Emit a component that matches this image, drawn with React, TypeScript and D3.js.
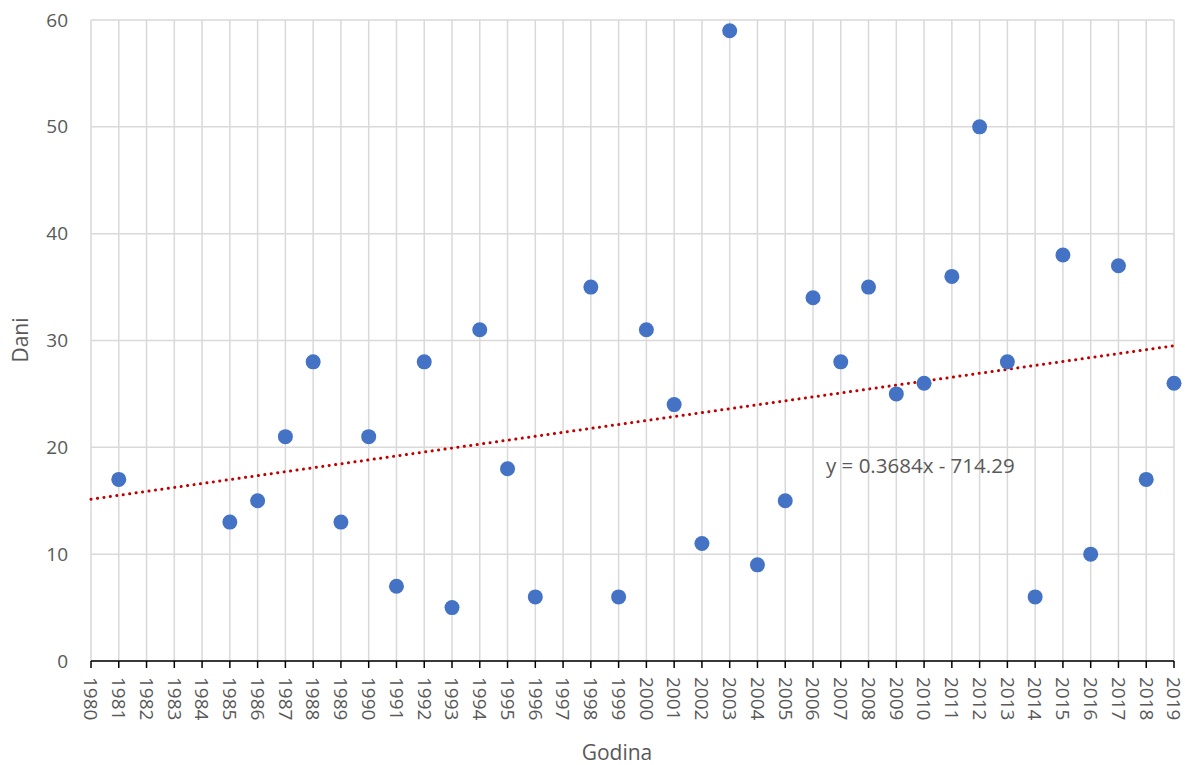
import React from "react";
import * as d3 from "d3";

const years = [1981, 1985, 1986, 1987, 1988, 1989, 1990, 1991, 1992, 1993, 1994, 1995, 1996, 1998, 1999, 2000, 2001, 2002, 2003, 2004, 2005, 2006, 2007, 2008, 2009, 2010, 2011, 2012, 2013, 2014, 2015, 2016, 2017, 2018, 2019];
const days = [17, 13, 15, 21, 28, 13, 21, 7, 28, 5, 31, 18, 6, 35, 6, 31, 24, 11, 59, 9, 15, 34, 28, 35, 25, 26, 36, 50, 28, 6, 38, 10, 37, 17, 26];
const xTicks = d3.range(1980, 2020);
const yTicks = [0, 10, 20, 30, 40, 50, 60];
const slope = 0.3684;
const intercept = -714.29;
const equationLabel = "y = 0.3684x - 714.29";
const xTitle = "Godina";
const yTitle = "Dani";

export default function App() {
  const W = 1185, H = 765;
  const left = 91, right = 1174, top = 20, bottom = 661;
  const x = d3.scaleLinear().domain([1980, 2019]).range([left, right]);
  const y = d3.scaleLinear().domain([0, 60]).range([bottom, top]);
  const font = "'Open Sans', 'Liberation Sans', sans-serif";
  const trend = d3.line<number>().x((d) => x(d)).y((d) => y(slope * d + intercept));
  return (
    <svg width={W} height={H} style={{ position: "absolute", left: 0, top: 0 }}>
      <rect width={W} height={H} fill="#fff" />
      {yTicks.map((t) => (
        <line key={"gy" + t} x1={left} x2={right} y1={y(t)} y2={y(t)} stroke="#d9d9d9" strokeWidth={1.5} />
      ))}
      {xTicks.map((t) => (
        <line key={"gx" + t} x1={x(t)} x2={x(t)} y1={top} y2={bottom} stroke="#d9d9d9" strokeWidth={1.5} />
      ))}
      <line x1={left} x2={right} y1={bottom} y2={bottom} stroke="#000" strokeWidth={1.5} />
      {xTicks.map((t) => (
        <line key={"tx" + t} x1={x(t)} x2={x(t)} y1={bottom} y2={bottom + 7} stroke="#000" strokeWidth={1.5} />
      ))}
      {yTicks.map((t) => (
        <text key={"ly" + t} x={68} y={y(t)} dy="0.35em" textAnchor="end" fontSize={19} fill="#595959" fontFamily={font}>{t}</text>
      ))}
      {xTicks.map((t) => (
        <text key={"lx" + t} transform={`translate(${x(t)},${bottom + 16}) rotate(90)`} dy="0.35em" textAnchor="start" fontSize={19} fill="#595959" fontFamily={font}>{t}</text>
      ))}
      <path d={trend([1980, 2019]) || ""} fill="none" stroke="#c00000" strokeWidth={3} strokeDasharray="0.1 6.4" strokeLinecap="round" />
      {years.map((yr, i) => (
        <circle key={"p" + yr} cx={x(yr)} cy={y(days[i])} r={7.5} fill="#4472c4" />
      ))}
      <text x={826} y={466} dy="0.35em" fontSize={20.5} fill="#595959" fontFamily={font}>{equationLabel}</text>
      <text x={617} y={760} textAnchor="middle" fontSize={21} fill="#595959" fontFamily={font}>{xTitle}</text>
      <text transform={`translate(28,340) rotate(-90)`} textAnchor="middle" fontSize={21} fill="#595959" fontFamily={font}>{yTitle}</text>
    </svg>
  );
}
